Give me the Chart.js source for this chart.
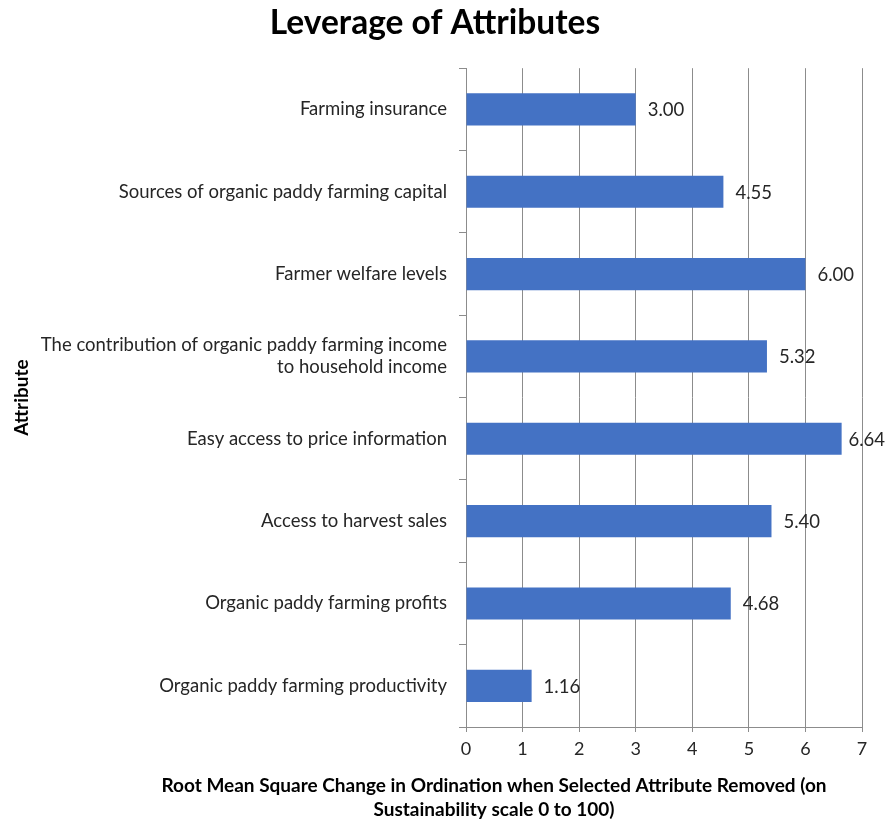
<!DOCTYPE html>
<html lang="en">
<head>
    <meta charset="UTF-8">
    <title>Leverage of Attributes</title>
    <script src="https://cdn.jsdelivr.net/npm/chart.js"></script>
    <style>
        body { margin: 0; background: #fff; }
        #wrap { width: 887px; height: 820px; }
    </style>
</head>
<body>
    <div id="wrap"><canvas id="leverageChart"></canvas></div>
    <script>
        const attributes = [
            'Farming insurance',
            'Sources of organic paddy farming capital',
            'Farmer welfare levels',
            ['The contribution of organic paddy farming income', 'to household income'],
            'Easy access to price information',
            'Access to harvest sales',
            'Organic paddy farming profits',
            'Organic paddy farming productivity'
        ];
        const rmsValues = [3.00, 4.55, 6.00, 5.32, 6.64, 5.40, 4.68, 1.16];
        const xTitleLines = [
            'Root Mean Square Change in Ordination when Selected Attribute Removed (on',
            'Sustainability scale 0 to 100)'
        ];

        const fontName = 'Lato, "Open Sans", sans-serif';

        // value labels at the end of each bar (kept inside the canvas)
        const barLabels = {
            id: 'barLabels',
            afterDatasetsDraw(chart) {
                const ctx = chart.ctx;
                const meta = chart.getDatasetMeta(0);
                ctx.save();
                ctx.font = '18.5px ' + fontName;
                ctx.fillStyle = '#262626';
                ctx.textBaseline = 'middle';
                ctx.textAlign = 'left';
                meta.data.forEach((bar, i) => {
                    const txt = rmsValues[i].toFixed(2);
                    const w = ctx.measureText(txt).width;
                    const x = Math.min(bar.x + 12, chart.width - w - 2);
                    ctx.fillText(txt, x, bar.y + 1);
                });
                ctx.restore();
            }
        };

        // x axis title, two lines, placed like the original
        const xTitle = {
            id: 'xTitle',
            afterDraw(chart) {
                const ctx = chart.ctx;
                ctx.save();
                ctx.font = 'bold 19px ' + fontName;
                ctx.fillStyle = '#000';
                ctx.textAlign = 'center';
                ctx.textBaseline = 'middle';
                ctx.fillText(xTitleLines[0], 494, 786);
                ctx.fillText(xTitleLines[1], 494, 810);
                ctx.restore();
            }
        };

        new Chart(document.getElementById('leverageChart'), {
            type: 'bar',
            data: {
                labels: attributes,
                datasets: [{
                    data: rmsValues,
                    backgroundColor: '#4472C4',
                    borderWidth: 0,
                    categoryPercentage: 1,
                    barPercentage: 0.39
                }]
            },
            options: {
                indexAxis: 'y',
                responsive: true,
                maintainAspectRatio: false,
                animation: false,
                layout: { padding: { top: 0, right: 25, bottom: 0, left: 8 } },
                plugins: {
                    legend: { display: false },
                    tooltip: { enabled: false },
                    title: {
                        display: true,
                        text: 'Leverage of Attributes',
                        color: '#000',
                        font: { family: fontName, size: 33.5, weight: 'bold' },
                        padding: { top: 3, bottom: 25 }
                    }
                },
                scales: {
                    x: {
                        min: 0,
                        max: 7,
                        ticks: {
                            stepSize: 1,
                            color: '#262626',
                            font: { family: fontName, size: 18 },
                            padding: 6
                        },
                        grid: {
                            color: '#8c8c8c',
                            tickLength: 5
                        },
                        border: { color: '#8c8c8c' },
                        afterFit(scale) { scale.height = 93; }
                    },
                    y: {
                        ticks: {
                            color: '#262626',
                            font: { family: fontName, size: 18.5 },
                            padding: 12
                        },
                        grid: {
                            offset: true,
                            drawOnChartArea: false,
                            color: '#8c8c8c',
                            tickLength: 7
                        },
                        border: { color: '#8c8c8c' },
                        title: {
                            display: true,
                            text: 'Attribute',
                            color: '#000',
                            font: { family: fontName, size: 19, weight: 'bold' },
                            padding: { top: 2, bottom: 0 }
                        },
                        afterFit(scale) { scale.width = 458; }
                    }
                }
            },
            plugins: [barLabels, xTitle]
        });
    </script>
</body>
</html>
